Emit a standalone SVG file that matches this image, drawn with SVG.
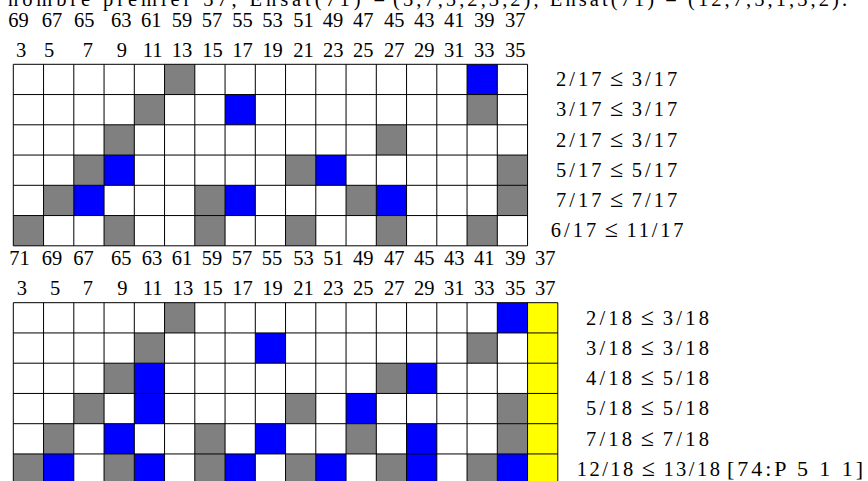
<svg xmlns="http://www.w3.org/2000/svg" width="868" height="481" viewBox="0 0 868 481" font-family="Liberation Serif, Times New Roman, serif">
<style>
text{font-family:"Liberation Serif","Times New Roman",serif;font-size:20.5px;fill:#000}
.le{font-size:24px;text-anchor:middle}
.g{fill:#808080}
.b{fill:#0000ff}
.y{fill:#ffff00}
.grid{fill:none;stroke:#000;stroke-width:1}
</style>
<rect width="868" height="481" fill="#fff"/>
<g id="title">
<text x="8" y="6" textLength="377" lengthAdjust="spacing">nombre premier 37, Ensat(71) =</text>
<text x="393" y="6" textLength="454" lengthAdjust="spacing">(3,7,5,2,3,2), Ensat(71) = (12,7,5,1,3,2).</text>
</g>
<g id="top-row-labels">
<text y="26.7"><tspan x="8.3">69</tspan><tspan x="41.7">67</tspan><tspan x="74">65</tspan><tspan x="111">63</tspan><tspan x="141">61</tspan><tspan x="171.7">59</tspan><tspan x="201.7">57</tspan><tspan x="232.3">55</tspan><tspan x="262.3">53</tspan><tspan x="293.3">51</tspan><tspan x="322.7">49</tspan><tspan x="353">47</tspan><tspan x="384">45</tspan><tspan x="414">43</tspan><tspan x="444">41</tspan><tspan x="474">39</tspan><tspan x="505">37</tspan></text>
</g>
<g id="grid1-top-labels">
<text y="56.5"><tspan x="16">3</tspan><tspan x="44">5</tspan><tspan x="82.7">7</tspan><tspan x="116.7">9</tspan><tspan x="142.7">11</tspan><tspan x="171.7">13</tspan><tspan x="202.3">15</tspan><tspan x="232.3">17</tspan><tspan x="262.3">19</tspan><tspan x="293.3">21</tspan><tspan x="323">23</tspan><tspan x="353">25</tspan><tspan x="384">27</tspan><tspan x="414">29</tspan><tspan x="444">31</tspan><tspan x="474">33</tspan><tspan x="505">35</tspan></text>
</g>
<g id="grid1" transform="translate(13.3,64.3)">
<rect class="g" x="151.25" y="0" width="30.25" height="30.25"/>
<rect class="b" x="453.75" y="0" width="30.25" height="30.25"/>
<rect class="g" x="121" y="30.25" width="30.25" height="30.25"/>
<rect class="b" x="211.75" y="30.25" width="30.25" height="30.25"/>
<rect class="g" x="453.75" y="30.25" width="30.25" height="30.25"/>
<rect class="g" x="90.75" y="60.5" width="30.25" height="30.25"/>
<rect class="g" x="363" y="60.5" width="30.25" height="30.25"/>
<rect class="g" x="60.5" y="90.75" width="30.25" height="30.25"/>
<rect class="b" x="90.75" y="90.75" width="30.25" height="30.25"/>
<rect class="g" x="272.25" y="90.75" width="30.25" height="30.25"/>
<rect class="b" x="302.5" y="90.75" width="30.25" height="30.25"/>
<rect class="g" x="484" y="90.75" width="30.25" height="30.25"/>
<rect class="g" x="30.25" y="121" width="30.25" height="30.25"/>
<rect class="b" x="60.5" y="121" width="30.25" height="30.25"/>
<rect class="g" x="181.5" y="121" width="30.25" height="30.25"/>
<rect class="b" x="211.75" y="121" width="30.25" height="30.25"/>
<rect class="g" x="332.75" y="121" width="30.25" height="30.25"/>
<rect class="b" x="363" y="121" width="30.25" height="30.25"/>
<rect class="g" x="484" y="121" width="30.25" height="30.25"/>
<rect class="g" x="0" y="151.25" width="30.25" height="30.25"/>
<rect class="g" x="90.75" y="151.25" width="30.25" height="30.25"/>
<rect class="g" x="181.5" y="151.25" width="30.25" height="30.25"/>
<rect class="g" x="272.25" y="151.25" width="30.25" height="30.25"/>
<rect class="g" x="363" y="151.25" width="30.25" height="30.25"/>
<rect class="g" x="453.75" y="151.25" width="30.25" height="30.25"/>
<path class="grid" d="M0 0V181.5M30.25 0V181.5M60.5 0V181.5M90.75 0V181.5M121 0V181.5M151.25 0V181.5M181.5 0V181.5M211.75 0V181.5M242 0V181.5M272.25 0V181.5M302.5 0V181.5M332.75 0V181.5M363 0V181.5M393.25 0V181.5M423.5 0V181.5M453.75 0V181.5M484 0V181.5M514.25 0V181.5M0 0H514.25M0 30.25H514.25M0 60.5H514.25M0 90.75H514.25M0 121H514.25M0 151.25H514.25M0 181.5H514.25"/>
</g>
<g id="grid1-ratios">
<text x="556" y="86" textLength="45.5" lengthAdjust="spacing">2/17</text><text class="le" x="616.7" y="86">≤</text><text x="631.8" y="86" textLength="45.5" lengthAdjust="spacing">3/17</text>
<text x="556" y="116.3" textLength="45.5" lengthAdjust="spacing">3/17</text><text class="le" x="616.7" y="116.3">≤</text><text x="631.8" y="116.3" textLength="45.5" lengthAdjust="spacing">3/17</text>
<text x="556" y="146.5" textLength="45.5" lengthAdjust="spacing">2/17</text><text class="le" x="616.7" y="146.5">≤</text><text x="631.8" y="146.5" textLength="45.5" lengthAdjust="spacing">3/17</text>
<text x="556" y="176.8" textLength="45.5" lengthAdjust="spacing">5/17</text><text class="le" x="616.7" y="176.8">≤</text><text x="631.8" y="176.8" textLength="45.5" lengthAdjust="spacing">5/17</text>
<text x="556" y="207" textLength="45.5" lengthAdjust="spacing">7/17</text><text class="le" x="616.7" y="207">≤</text><text x="631.8" y="207" textLength="45.5" lengthAdjust="spacing">7/17</text>
<text x="550.7" y="237.3" textLength="45.5" lengthAdjust="spacing">6/17</text><text class="le" x="611.4" y="237.3">≤</text><text x="626.5" y="237.3" textLength="57" lengthAdjust="spacing">11/17</text>
</g>
<g id="grid1-bottom-labels">
<text y="265"><tspan x="9.3">71</tspan><tspan x="41.7">69</tspan><tspan x="73.3">67</tspan><tspan x="111">65</tspan><tspan x="141.7">63</tspan><tspan x="171.7">61</tspan><tspan x="201.7">59</tspan><tspan x="231.7">57</tspan><tspan x="261.7">55</tspan><tspan x="293.3">53</tspan><tspan x="323.3">51</tspan><tspan x="353">49</tspan><tspan x="384">47</tspan><tspan x="414">45</tspan><tspan x="444">43</tspan><tspan x="474">41</tspan><tspan x="505">39</tspan><tspan x="535">37</tspan></text>
</g>
<g id="grid2-top-labels">
<text y="294.5"><tspan x="16.7">3</tspan><tspan x="50">5</tspan><tspan x="82.7">7</tspan><tspan x="117.3">9</tspan><tspan x="142.7">11</tspan><tspan x="172.7">13</tspan><tspan x="202.3">15</tspan><tspan x="232.3">17</tspan><tspan x="262.3">19</tspan><tspan x="293.3">21</tspan><tspan x="323">23</tspan><tspan x="353">25</tspan><tspan x="384">27</tspan><tspan x="414">29</tspan><tspan x="444">31</tspan><tspan x="474">33</tspan><tspan x="505">35</tspan><tspan x="535">37</tspan></text>
</g>
<g id="grid2" transform="translate(13.3,302.7)">
<rect class="y" x="514.25" y="0" width="30.25" height="181.5"/>
<rect class="g" x="151.25" y="0" width="30.25" height="30.25"/>
<rect class="b" x="484" y="0" width="30.25" height="30.25"/>
<rect class="g" x="121" y="30.25" width="30.25" height="30.25"/>
<rect class="b" x="242" y="30.25" width="30.25" height="30.25"/>
<rect class="g" x="453.75" y="30.25" width="30.25" height="30.25"/>
<rect class="g" x="90.75" y="60.5" width="30.25" height="30.25"/>
<rect class="b" x="121" y="60.5" width="30.25" height="30.25"/>
<rect class="g" x="363" y="60.5" width="30.25" height="30.25"/>
<rect class="b" x="393.25" y="60.5" width="30.25" height="30.25"/>
<rect class="g" x="60.5" y="90.75" width="30.25" height="30.25"/>
<rect class="b" x="121" y="90.75" width="30.25" height="30.25"/>
<rect class="g" x="272.25" y="90.75" width="30.25" height="30.25"/>
<rect class="b" x="332.75" y="90.75" width="30.25" height="30.25"/>
<rect class="g" x="484" y="90.75" width="30.25" height="30.25"/>
<rect class="g" x="30.25" y="121" width="30.25" height="30.25"/>
<rect class="b" x="90.75" y="121" width="30.25" height="30.25"/>
<rect class="g" x="181.5" y="121" width="30.25" height="30.25"/>
<rect class="b" x="242" y="121" width="30.25" height="30.25"/>
<rect class="g" x="332.75" y="121" width="30.25" height="30.25"/>
<rect class="b" x="393.25" y="121" width="30.25" height="30.25"/>
<rect class="g" x="484" y="121" width="30.25" height="30.25"/>
<rect class="g" x="0" y="151.25" width="30.25" height="30.25"/>
<rect class="b" x="30.25" y="151.25" width="30.25" height="30.25"/>
<rect class="g" x="90.75" y="151.25" width="30.25" height="30.25"/>
<rect class="b" x="121" y="151.25" width="30.25" height="30.25"/>
<rect class="g" x="181.5" y="151.25" width="30.25" height="30.25"/>
<rect class="b" x="211.75" y="151.25" width="30.25" height="30.25"/>
<rect class="g" x="272.25" y="151.25" width="30.25" height="30.25"/>
<rect class="b" x="302.5" y="151.25" width="30.25" height="30.25"/>
<rect class="g" x="363" y="151.25" width="30.25" height="30.25"/>
<rect class="b" x="393.25" y="151.25" width="30.25" height="30.25"/>
<rect class="g" x="453.75" y="151.25" width="30.25" height="30.25"/>
<rect class="b" x="484" y="151.25" width="30.25" height="30.25"/>
<path class="grid" d="M0 0V181.5M30.25 0V181.5M60.5 0V181.5M90.75 0V181.5M121 0V181.5M151.25 0V181.5M181.5 0V181.5M211.75 0V181.5M242 0V181.5M272.25 0V181.5M302.5 0V181.5M332.75 0V181.5M363 0V181.5M393.25 0V181.5M423.5 0V181.5M453.75 0V181.5M484 0V181.5M514.25 0V181.5M544.5 0V181.5M0 0H544.5M0 30.25H544.5M0 60.5H544.5M0 90.75H544.5M0 121H544.5M0 151.25H544.5M0 181.5H544.5"/>
</g>
<g id="grid2-ratios">
<text x="586" y="324.6" textLength="46" lengthAdjust="spacing">2/18</text><text class="le" x="647.3" y="324.6">≤</text><text x="662.7" y="324.6" textLength="46.3" lengthAdjust="spacing">3/18</text>
<text x="586" y="354.9" textLength="46" lengthAdjust="spacing">3/18</text><text class="le" x="647.3" y="354.9">≤</text><text x="662.7" y="354.9" textLength="46.3" lengthAdjust="spacing">3/18</text>
<text x="586" y="385.1" textLength="46" lengthAdjust="spacing">4/18</text><text class="le" x="647.3" y="385.1">≤</text><text x="662.7" y="385.1" textLength="46.3" lengthAdjust="spacing">5/18</text>
<text x="586" y="415.4" textLength="46" lengthAdjust="spacing">5/18</text><text class="le" x="647.3" y="415.4">≤</text><text x="662.7" y="415.4" textLength="46.3" lengthAdjust="spacing">5/18</text>
<text x="586" y="445.6" textLength="46" lengthAdjust="spacing">7/18</text><text class="le" x="647.3" y="445.6">≤</text><text x="662.7" y="445.6" textLength="46.3" lengthAdjust="spacing">7/18</text>
<text x="576.7" y="475.9" textLength="56.6" lengthAdjust="spacing">12/18</text><text class="le" x="648.3" y="475.9">≤</text><text x="663.4" y="475.9" textLength="56.6" lengthAdjust="spacing">13/18</text>
<text x="727" y="475.9" textLength="136" lengthAdjust="spacing" style="font-size:22px">[74:P 5 1 1]</text>
</g>
</svg>
